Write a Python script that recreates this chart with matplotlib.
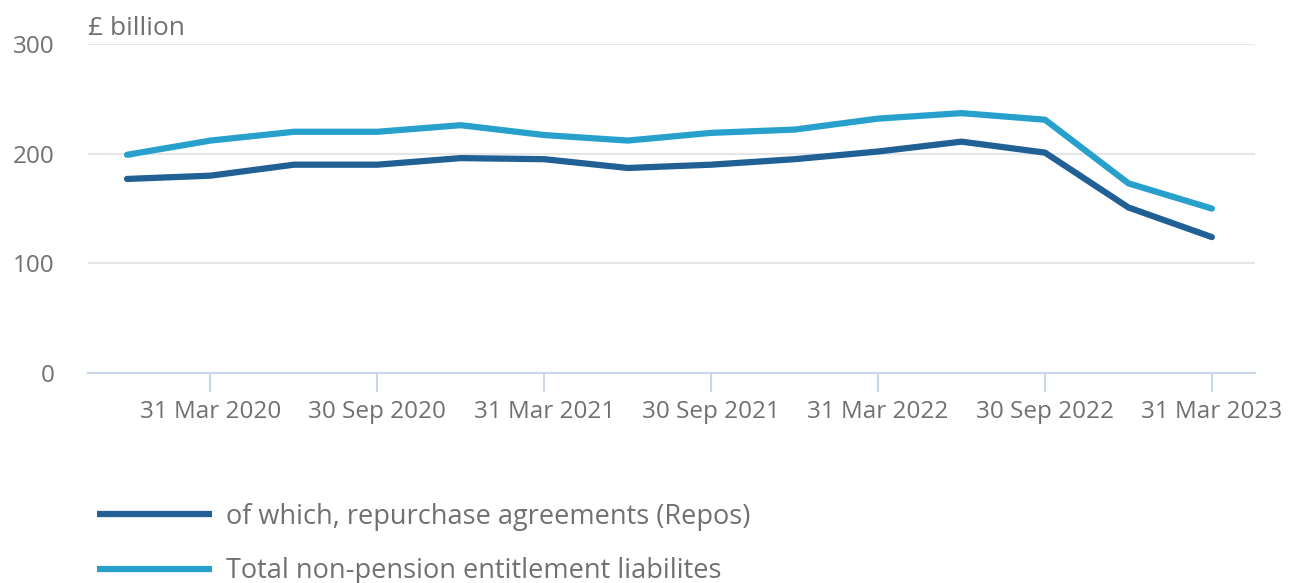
import matplotlib.pyplot as plt
import numpy as np

# quarterly, Dec 2019 .. Mar 2023
quarters = ['31 Dec 2019', '31 Mar 2020', '30 Jun 2020', '30 Sep 2020', '31 Dec 2020',
            '31 Mar 2021', '30 Jun 2021', '30 Sep 2021', '31 Dec 2021', '31 Mar 2022',
            '30 Jun 2022', '30 Sep 2022', '31 Dec 2022', '31 Mar 2023']
repos = [177, 180, 190, 190, 196, 195, 187, 190, 195, 202, 211, 201, 151, 124]
total = [199, 212, 220, 220, 226, 217, 212, 219, 222, 232, 237, 231, 173, 150]

repos_label = 'of which, repurchase agreements (Repos)'
total_label = 'Total non-pension entitlement liabilites'

plt.rcParams['font.family'] = ['Open Sans', 'DejaVu Sans']
grey = '#707070'

fig = plt.figure(figsize=(12.95, 5.83), dpi=100)
ax = fig.add_axes([0.068, 0.360, 0.901, 0.5645])

x = np.arange(len(quarters))
l1, = ax.plot(x, repos, color='#206095', lw=4.5, solid_capstyle='round', solid_joinstyle='round',
              label=repos_label, zorder=3)
l2, = ax.plot(x, total, color='#27a0cc', lw=4.5, solid_capstyle='round', solid_joinstyle='round',
              label=total_label, zorder=3)

ax.set_xlim(-0.467, 13.515)
ax.set_ylim(0, 300)
ax.set_yticks([0, 100, 200, 300])
ax.yaxis.grid(True, color='#e6e6e6', lw=1.5)
ax.set_axisbelow(True)

ticks = x[1::2]
ax.set_xticks(ticks)
ax.set_xticklabels([quarters[i] for i in ticks])

for s in ['top', 'right', 'left']:
    ax.spines[s].set_visible(False)
ax.spines['bottom'].set_color('#ccd6eb')
ax.spines['bottom'].set_linewidth(1.5)
ax.tick_params(axis='x', length=14, width=1.5, color='#ccd6eb', labelcolor=grey,
               labelsize=17.5, pad=5)
ax.tick_params(axis='y', length=0, labelcolor=grey, labelsize=17.5, pad=24)

fig.text(0.068, 0.951, '£ billion', color=grey, fontsize=19, ha='left', va='center')

leg = fig.legend(handles=[l1, l2], loc='upper left', bbox_to_anchor=(0.075, 0.138),
                 bbox_transform=fig.transFigure, frameon=False, fontsize=19.5, labelcolor=grey,
                 handlelength=4.25, handletextpad=0.5, labelspacing=0.98, borderaxespad=0, borderpad=0)
for h in leg.get_lines():
    h.set_solid_capstyle('butt')

fig.savefig('out.png', dpi=100)
